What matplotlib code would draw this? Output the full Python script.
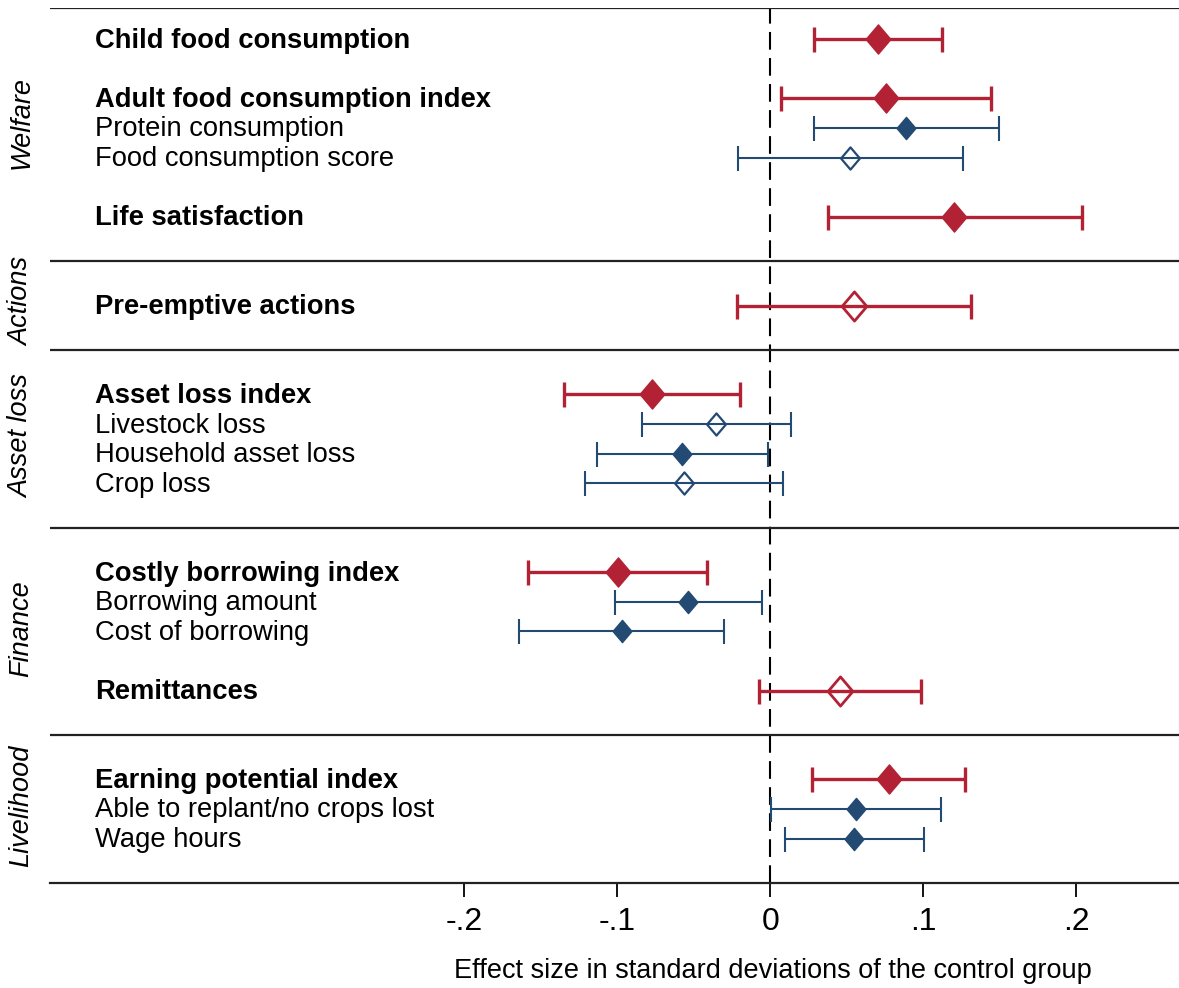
import matplotlib
matplotlib.use('Agg')
import matplotlib.pyplot as plt
from matplotlib.path import Path

plt.rcParams['font.family'] = ['Liberation Sans', 'DejaVu Sans']

# outcomes, top to bottom
labels = ['Child food consumption', 'Adult food consumption index', 'Protein consumption',
          'Food consumption score', 'Life satisfaction', 'Pre-emptive actions',
          'Asset loss index', 'Livestock loss', 'Household asset loss', 'Crop loss',
          'Costly borrowing index', 'Borrowing amount', 'Cost of borrowing', 'Remittances',
          'Earning potential index', 'Able to replant/no crops lost', 'Wage hours']
rows = [0, 2, 3, 4, 6, 9, 12, 13, 14, 15, 18, 19, 20, 22, 25, 26, 27]
is_index = [True, True, False, False, True, True, True, False, False, False,
            True, False, False, True, True, False, False]
filled = [True, True, True, False, True, False, True, False, True, False,
          True, True, True, False, True, True, True]
est = [0.0704, 0.0754, 0.0888, 0.0523, 0.1203, 0.0547, -0.0776, -0.0354, -0.0575, -0.0566,
       -0.0997, -0.0536, -0.0967, 0.0458, 0.0776, 0.0559, 0.0545]
lo = [0.0284, 0.0069, 0.0284, -0.0209, 0.0376, -0.0216, -0.1350, -0.0840, -0.1131, -0.1213,
      -0.1580, -0.1016, -0.1639, -0.0071, 0.0275, 0.0005, 0.0093]
hi = [0.1124, 0.1440, 0.1493, 0.1257, 0.2034, 0.1310, -0.0199, 0.0136, -0.0013, 0.0084,
      -0.0414, -0.0056, -0.0302, 0.0987, 0.1272, 0.1115, 0.1007]

groups = ['Welfare', 'Actions', 'Asset loss', 'Finance', 'Livelihood']
group_mid = [2.8, 8.85, 13.4, 19.9, 25.9]
separators = [-1.05, 7.5, 10.5, 16.5, 23.5]

xticks = [-0.2, -0.1, 0, 0.1, 0.2]
xticklabels = ['-.2', '-.1', '0', '.1', '.2']

red = '#B22234'
blue = '#234A73'

# slightly tall diamond
diamond = Path([(0, 1), (0.85, 0), (0, -1), (-0.85, 0), (0, 1)],
               [Path.MOVETO, Path.LINETO, Path.LINETO, Path.LINETO, Path.CLOSEPOLY])

fig = plt.figure(figsize=(11.79, 9.88), dpi=100)
ax = fig.add_axes([0.0424, 0.1063, 0.9576, 0.8856])

ax.axvline(0, color='black', lw=1.5, ls=(0, (8.5, 4)), zorder=1)
for s in separators:
    ax.axhline(s, color='#222222', lw=1.6, zorder=1)

for i in range(len(labels)):
    col = red if is_index[i] else blue
    lw = 2.4 if is_index[i] else 1.5
    ms = 21 if is_index[i] else 16
    ax.errorbar(est[i], rows[i], xerr=[[est[i] - lo[i]], [hi[i] - est[i]]], fmt='none',
                ecolor=col, elinewidth=lw, capsize=9, capthick=lw, zorder=2)
    ax.plot(est[i], rows[i], marker=diamond, ms=ms, ls='none',
            mfc=col if filled[i] else 'none', mec=col,
            mew=1.0 if filled[i] else (2.0 if is_index[i] else 1.6), zorder=3)
    ax.text(0.0399, rows[i] + 0.05, labels[i], transform=ax.get_yaxis_transform(),
            ha='left', va='center', fontsize=19.7,
            fontweight='bold' if is_index[i] else 'normal')

for g, m in zip(groups, group_mid):
    ax.text(-0.0255, m, g, transform=ax.get_yaxis_transform(), rotation=90,
            ha='center', va='center', fontsize=19.5, style='italic')

ax.set_xlim(-0.4706, 0.267)
ax.set_ylim(28.5, -1.05)
ax.set_yticks([])
for sp in ['left', 'right', 'top']:
    ax.spines[sp].set_visible(False)
ax.spines['bottom'].set_linewidth(1.6)
ax.spines['bottom'].set_color('#222222')
ax.set_xticks(xticks)
ax.set_xticklabels(xticklabels, fontsize=23)
ax.tick_params(axis='x', length=10, width=1.3, pad=7)

fig.text(773 / 1179, 1 - 971 / 988, 'Effect size in standard deviations of the control group',
         ha='center', va='center', fontsize=19.5)

fig.savefig('out.png', dpi=100)
